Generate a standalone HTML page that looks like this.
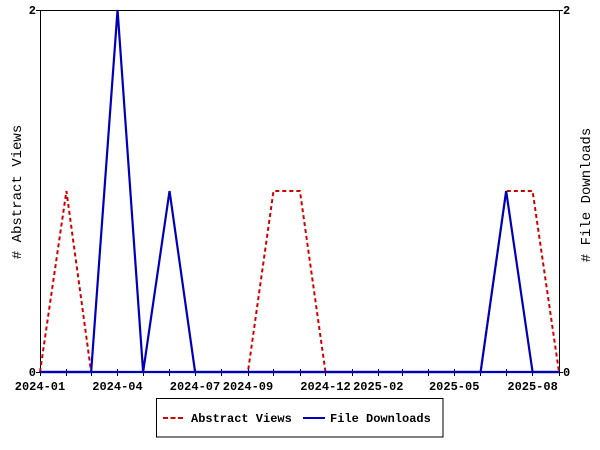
<!DOCTYPE html>
<html>
<head>
<meta charset="utf-8">
<style>
html,body{margin:0;padding:0;background:#fff;}
svg{display:block;}
text{font-family:"Liberation Mono",monospace;font-size:12px;font-weight:bold;fill:#000;}
</style>
</head>
<body>
<svg width="600" height="450" viewBox="0 0 600 450" xmlns="http://www.w3.org/2000/svg">
<rect x="0" y="0" width="600" height="450" fill="#fff"/>
<!-- frame -->
<rect x="40.5" y="10.5" width="519" height="361.5" fill="none" stroke="#000" stroke-width="1"/>
<!-- y ticks -->
<line x1="36" y1="10.5" x2="40" y2="10.5" stroke="#000"/>
<line x1="36" y1="372.5" x2="40" y2="372.5" stroke="#000"/>
<line x1="559" y1="10.5" x2="563" y2="10.5" stroke="#000"/>
<line x1="559" y1="372.5" x2="563" y2="372.5" stroke="#000"/>
<text x="36" y="14" text-anchor="end">2</text>
<text x="36" y="376" text-anchor="end">0</text>
<text x="563" y="14">2</text>
<text x="563" y="376">0</text>
<!-- x ticks -->
<g stroke="#000" stroke-width="1">
<line x1="40.5" y1="369" x2="40.5" y2="376"/>
<line x1="66.5" y1="369" x2="66.5" y2="376"/>
<line x1="91.5" y1="369" x2="91.5" y2="376"/>
<line x1="117.5" y1="369" x2="117.5" y2="376"/>
<line x1="143.5" y1="369" x2="143.5" y2="376"/>
<line x1="169.5" y1="369" x2="169.5" y2="376"/>
<line x1="195.5" y1="369" x2="195.5" y2="376"/>
<line x1="221.5" y1="369" x2="221.5" y2="376"/>
<line x1="248.5" y1="369" x2="248.5" y2="376"/>
<line x1="273.5" y1="369" x2="273.5" y2="376"/>
<line x1="300.5" y1="369" x2="300.5" y2="376"/>
<line x1="325.5" y1="369" x2="325.5" y2="376"/>
<line x1="352.5" y1="369" x2="352.5" y2="376"/>
<line x1="378.5" y1="369" x2="378.5" y2="376"/>
<line x1="402.5" y1="369" x2="402.5" y2="376"/>
<line x1="428.5" y1="369" x2="428.5" y2="376"/>
<line x1="454.5" y1="369" x2="454.5" y2="376"/>
<line x1="480.5" y1="369" x2="480.5" y2="376"/>
<line x1="506.5" y1="369" x2="506.5" y2="376"/>
<line x1="532.5" y1="369" x2="532.5" y2="376"/>
<line x1="559.5" y1="369" x2="559.5" y2="376"/>
</g>
<g text-anchor="middle">
<text x="40" y="390">2024-01</text>
<text x="117.5" y="390">2024-04</text>
<text x="195" y="390">2024-07</text>
<text x="248" y="390">2024-09</text>
<text x="325.5" y="390">2024-12</text>
<text x="378.3" y="390">2025-02</text>
<text x="454.2" y="390">2025-05</text>
<text x="532.6" y="390">2025-08</text>
</g>
<!-- axis titles -->
<text transform="translate(21,192) rotate(-90)" text-anchor="middle" style="font-size:14px;font-weight:normal">&#35; Abstract Views</text>
<text transform="translate(590,195) rotate(-90)" text-anchor="middle" style="font-size:14px;font-weight:normal"># File Downloads</text>
<!-- red series -->
<polyline fill="none" stroke="#cc0000" stroke-width="2" stroke-dasharray="4,3"
 points="40,372 66.42,191 91.13,372 117.55,372 143.12,372 169.54,372 195.10,372 221.52,372 247.94,372 273.51,191 299.93,191 325.49,372 351.91,372 378.33,372 402.19,372 428.61,372 454.18,372 480.60,372 506.16,191 532.58,191 559,372"/>
<!-- blue baseline -->
<line x1="40" y1="372" x2="559" y2="372" stroke="#0000bb" stroke-width="2.2"/>
<!-- blue series -->
<polyline fill="none" stroke="#0000bb" stroke-width="2.2"
 points="40,372 66.42,372 91.13,372 117.55,10 143.12,372 169.54,191 195.10,372 221.52,372 247.94,372 273.51,372 299.93,372 325.49,372 351.91,372 378.33,372 402.19,372 428.61,372 454.18,372 480.60,372 506.16,191 532.58,372 559,372"/>
<!-- legend -->
<rect x="156.5" y="398.5" width="286.5" height="38.5" fill="#fff" stroke="#000" stroke-width="1"/>
<line x1="163" y1="418" x2="183" y2="418" stroke="#cc0000" stroke-width="2" stroke-dasharray="5,2.5"/>
<text x="191" y="422">Abstract Views</text>
<line x1="303" y1="418" x2="325" y2="418" stroke="#0000bb" stroke-width="2"/>
<text x="330" y="422">File Downloads</text>
</svg>
</body>
</html>
